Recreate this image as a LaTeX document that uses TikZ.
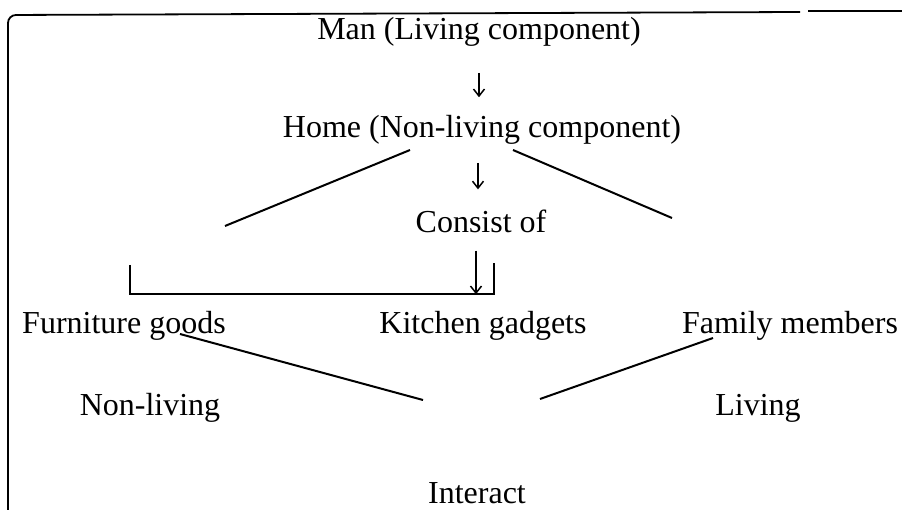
\documentclass[tikz,border=0pt]{standalone}
\usepackage{fontspec}
\setmainfont{Liberation Serif}
\usetikzlibrary{arrows.meta}
\begin{document}
\begin{tikzpicture}[x=1pt,y=-1pt,>={Straight Barb[length=7pt,width=11pt]},
  lbl/.style={inner sep=0pt,font=\fontsize{32}{38}\selectfont},
  ln/.style={line width=2pt},
  arr/.style={->,line width=1.5pt}]
\useasboundingbox (0,0) rectangle (902,510);
% frame
\draw[line width=1.8pt,rounded corners=8pt] (8,510) -- (8,15) -- (800,12);
\draw[line width=1.8pt] (808,11) -- (902,11);

\node[lbl] (man) at (479,32) {Man (Living component)};
\node[lbl] (home) at (482,130) {Home (Non-living component)};
\node[lbl] (consist) at (481,221) {Consist of};
\node[lbl] (furniture) at (124,326) {Furniture goods};
\node[lbl] (kitchen) at (483,326) {Kitchen gadgets};
\node[lbl] (family) at (790,326) {Family members};
\node[lbl] (nonliving) at (150,408) {Non-living};
\node[lbl] (living) at (758,408) {Living};
\node[lbl] (interact) at (477,493) {Interact};

\draw[arr,shorten <=26pt,shorten >=18pt] (man.south) -- (man.south |- home.north);
\draw[arr,shorten <=18pt,shorten >=20pt] ([xshift=-4pt]home.south) -- ([xshift=-4pt]home.south |- consist.north);

% branches from home
\coordinate (hl) at (410,150);
\coordinate (hle) at (225,226);
\coordinate (hr) at (513,150);
\coordinate (hre) at (672,218);
\draw[ln] (hl) -- (hle);
\draw[ln] (hr) -- (hre);

% bracket
\coordinate (bl) at (130,265);
\coordinate (br) at (494,263);
\draw[ln] (bl) -- (130,294) -- (494,294) -- (br);
\draw[arr,shorten <=18pt,shorten >=17pt] ([xshift=-5pt]consist.south) -- ([xshift=-5pt]consist.south |- kitchen.north);

% interaction lines
\coordinate (il) at (423,400);
\coordinate (ir) at (540,399);
\draw[ln] (180,334) -- (il);
\draw[ln] (713,338) -- (ir);
\end{tikzpicture}
\end{document}
